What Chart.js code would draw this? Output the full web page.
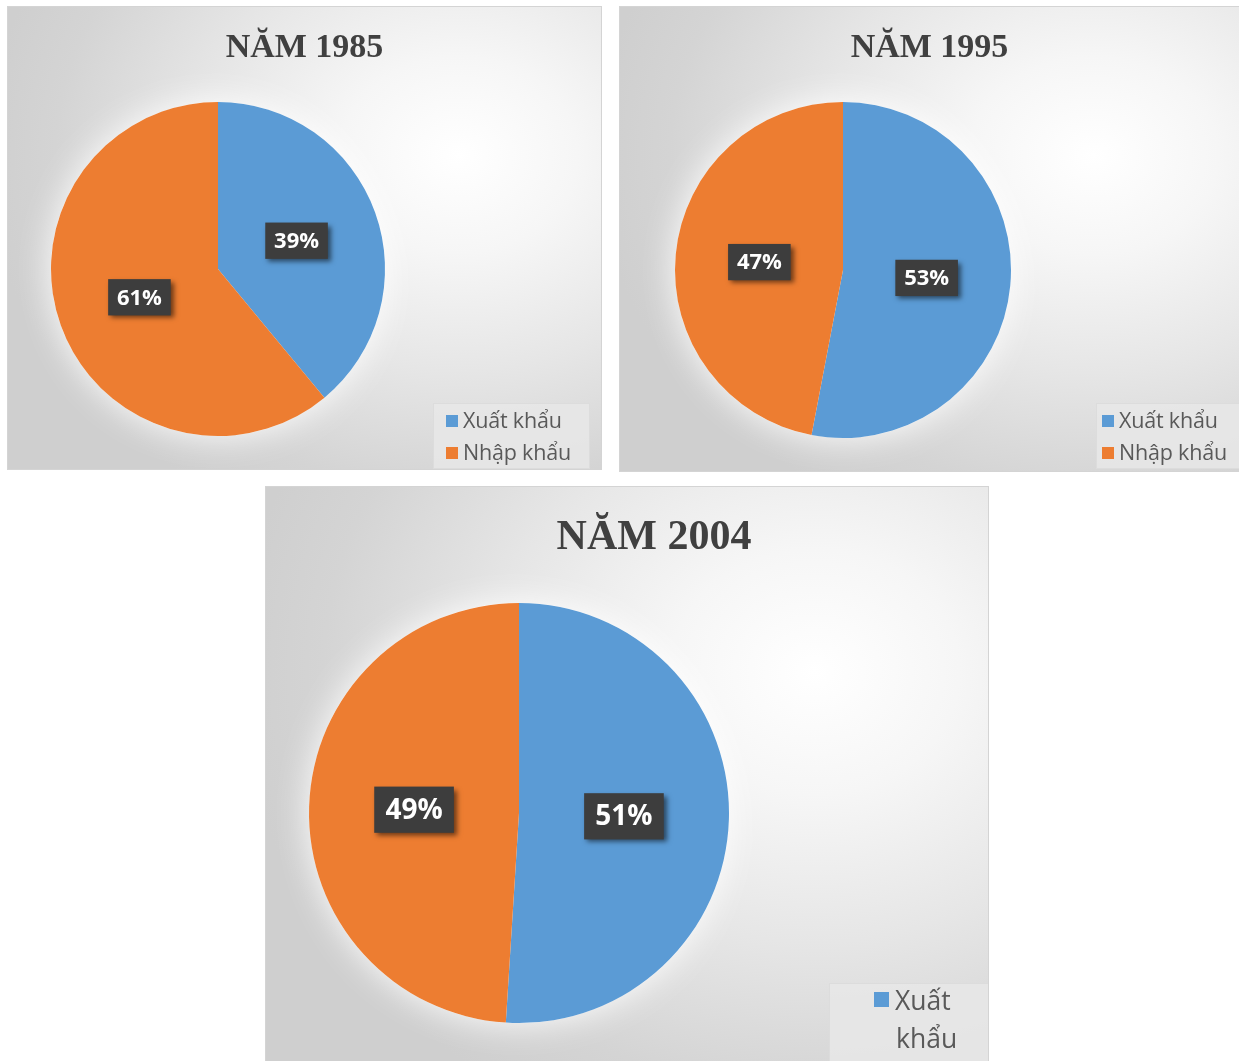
<!DOCTYPE html>
<html>
<head>
<meta charset="utf-8">
<script src="https://cdn.jsdelivr.net/npm/chart.js@4"></script>
<style>
  html,body{margin:0;padding:0;background:#ffffff;width:1239px;height:1061px;overflow:hidden;}
  .panel{position:absolute;border:1px solid #d4d4d4;box-sizing:border-box;overflow:hidden;
    background:radial-gradient(ellipse 80% 85% at 76% 32%, #ffffff 0%, #f6f6f6 25%, #e6e6e6 55%, #d4d4d4 85%, #cfcfcf 100%);}
  .panel canvas{position:absolute;left:0;top:0;}
  .title{position:absolute;left:0;width:100%;text-align:center;font-family:"Liberation Serif","Times New Roman",serif;
    font-weight:bold;color:#404040;white-space:nowrap;}
  .legend{position:absolute;background:rgba(232,232,232,0.85);border:1px solid #dcdcdc;box-sizing:border-box;
    font-family:"Open Sans","Noto Sans",sans-serif;color:#595959;}
  .item{position:absolute;white-space:nowrap;}
  .sw{display:inline-block;vertical-align:middle;}
</style>
</head>
<body>
<div class="panel" id="p0" style="left:7px;top:6px;width:595px;height:464px;">
  <canvas id="c0" width="595" height="464"></canvas>
  <div class="title" id="t0" style="top:20px;font-size:34px;"></div>
  <div class="legend" style="left:425px;top:396px;width:157px;height:66px;">
    <div class="item" style="left:12px;top:1px;font-size:21.5px;letter-spacing:-0.2px;"><span class="sw" style="width:12px;height:12px;background:#5B9BD5;margin-right:5px;margin-top:-3px;"></span><span id="l0a"></span></div>
    <div class="item" style="left:12px;top:33px;font-size:21.5px;letter-spacing:-0.2px;"><span class="sw" style="width:12px;height:12px;background:#ED7D31;margin-right:5px;margin-top:-3px;"></span><span id="l0b"></span></div>
  </div>
</div>
<div class="panel" id="p1" style="left:619px;top:6px;width:625px;height:466px;">
  <canvas id="c1" width="625" height="466"></canvas>
  <div class="title" id="t1" style="top:20px;font-size:34px;left:-3px;width:625px;"></div>
  <div class="legend" style="left:476px;top:396px;width:160px;height:66px;">
    <div class="item" style="left:5px;top:1px;font-size:21.5px;letter-spacing:-0.2px;"><span class="sw" style="width:12px;height:12px;background:#5B9BD5;margin-right:5px;margin-top:-3px;"></span><span id="l1a"></span></div>
    <div class="item" style="left:5px;top:33px;font-size:21.5px;letter-spacing:-0.2px;"><span class="sw" style="width:12px;height:12px;background:#ED7D31;margin-right:5px;margin-top:-3px;"></span><span id="l1b"></span></div>
  </div>
</div>
<div class="panel" id="p2" style="left:265px;top:486px;width:724px;height:580px;">
  <canvas id="c2" width="724" height="580"></canvas>
  <div class="title" id="t2" style="top:24px;font-size:42px;left:27px;"></div>
  <div class="legend" style="left:563px;top:496px;width:160px;height:90px;">
    <div class="item" style="left:44px;top:-3px;font-size:26.5px;line-height:38px;">
      <span class="sw" style="width:15px;height:15px;background:#5B9BD5;margin-right:6px;margin-top:-6px;"></span><span id="l2a1"></span><br>
      <span style="padding-left:22px;" id="l2a2"></span>
    </div>
  </div>
</div>
<script>
const years = ['NĂM 1985', 'NĂM 1995', 'NĂM 2004'];
const categories = ['Xuất khẩu', 'Nhập khẩu'];
const exportShare = [39, 53, 51];
const importShare = [61, 47, 49];
const colors = ['#5B9BD5', '#ED7D31'];

// chart layouts (padding to place the pie inside each panel) and label font sizes
const paddings = [
  {left: 43, right: 218, top: 95, bottom: 35},
  {left: 55, right: 234, top: 95, bottom: 35},
  {left: 43, right: 261, top: 116, bottom: 44}
];
const labelFontSizes = [22, 22, 28];

document.getElementById('t0').textContent = years[0];
document.getElementById('t1').textContent = years[1];
document.getElementById('t2').textContent = years[2];
document.getElementById('l0a').textContent = categories[0];
document.getElementById('l0b').textContent = categories[1];
document.getElementById('l1a').textContent = categories[0];
document.getElementById('l1b').textContent = categories[1];
const parts = categories[0].split(' ');
document.getElementById('l2a1').textContent = parts[0];
document.getElementById('l2a2').textContent = parts[1];

const glowPlugin = {
  id: 'glow',
  beforeDatasetsDraw(chart) {
    const arc = chart.getDatasetMeta(0).data[0];
    if (!arc) return;
    const ctx = chart.ctx;
    ctx.save();
    ctx.shadowColor = 'rgba(255,255,255,0.95)';
    ctx.shadowBlur = 35;
    ctx.fillStyle = '#ffffff';
    ctx.beginPath();
    ctx.arc(arc.x, arc.y, arc.outerRadius, 0, Math.PI * 2);
    ctx.fill();
    ctx.restore();
  }
};

const labelPlugin = {
  id: 'boxLabels',
  afterDatasetsDraw(chart, args, opts) {
    const ctx = chart.ctx;
    const ds = chart.data.datasets[0];
    const fs = opts.fontSize;
    chart.getDatasetMeta(0).data.forEach((arc, i) => {
      const p = arc.tooltipPosition();
      const txt = ds.data[i] + '%';
      ctx.save();
      ctx.font = 'bold ' + fs + 'px "Open Sans", "Noto Sans", sans-serif';
      const w = ctx.measureText(txt).width + fs * 0.8;
      const h = fs * 1.65;
      ctx.shadowColor = 'rgba(0,0,0,0.55)';
      ctx.shadowBlur = 5;
      ctx.shadowOffsetX = 3;
      ctx.shadowOffsetY = 3;
      ctx.fillStyle = '#3d3d3d';
      ctx.fillRect(p.x - w / 2, p.y - h / 2, w, h);
      ctx.restore();
      ctx.save();
      ctx.font = 'bold ' + fs + 'px "Open Sans", "Noto Sans", sans-serif';
      ctx.fillStyle = '#ffffff';
      ctx.textAlign = 'center';
      ctx.textBaseline = 'middle';
      ctx.fillText(txt, p.x, p.y + 1);
      ctx.restore();
    });
  }
};

for (let k = 0; k < 3; k++) {
  new Chart(document.getElementById('c' + k), {
    type: 'pie',
    data: {
      labels: categories,
      datasets: [{
        data: [exportShare[k], importShare[k]],
        backgroundColor: colors,
        borderWidth: 0
      }]
    },
    options: {
      responsive: false,
      animation: false,
      layout: {padding: paddings[k]},
      plugins: {
        legend: {display: false},
        tooltip: {enabled: false},
        title: {display: false},
        boxLabels: {fontSize: labelFontSizes[k]}
      }
    },
    plugins: [glowPlugin, labelPlugin]
  });
}
</script>
</body>
</html>
